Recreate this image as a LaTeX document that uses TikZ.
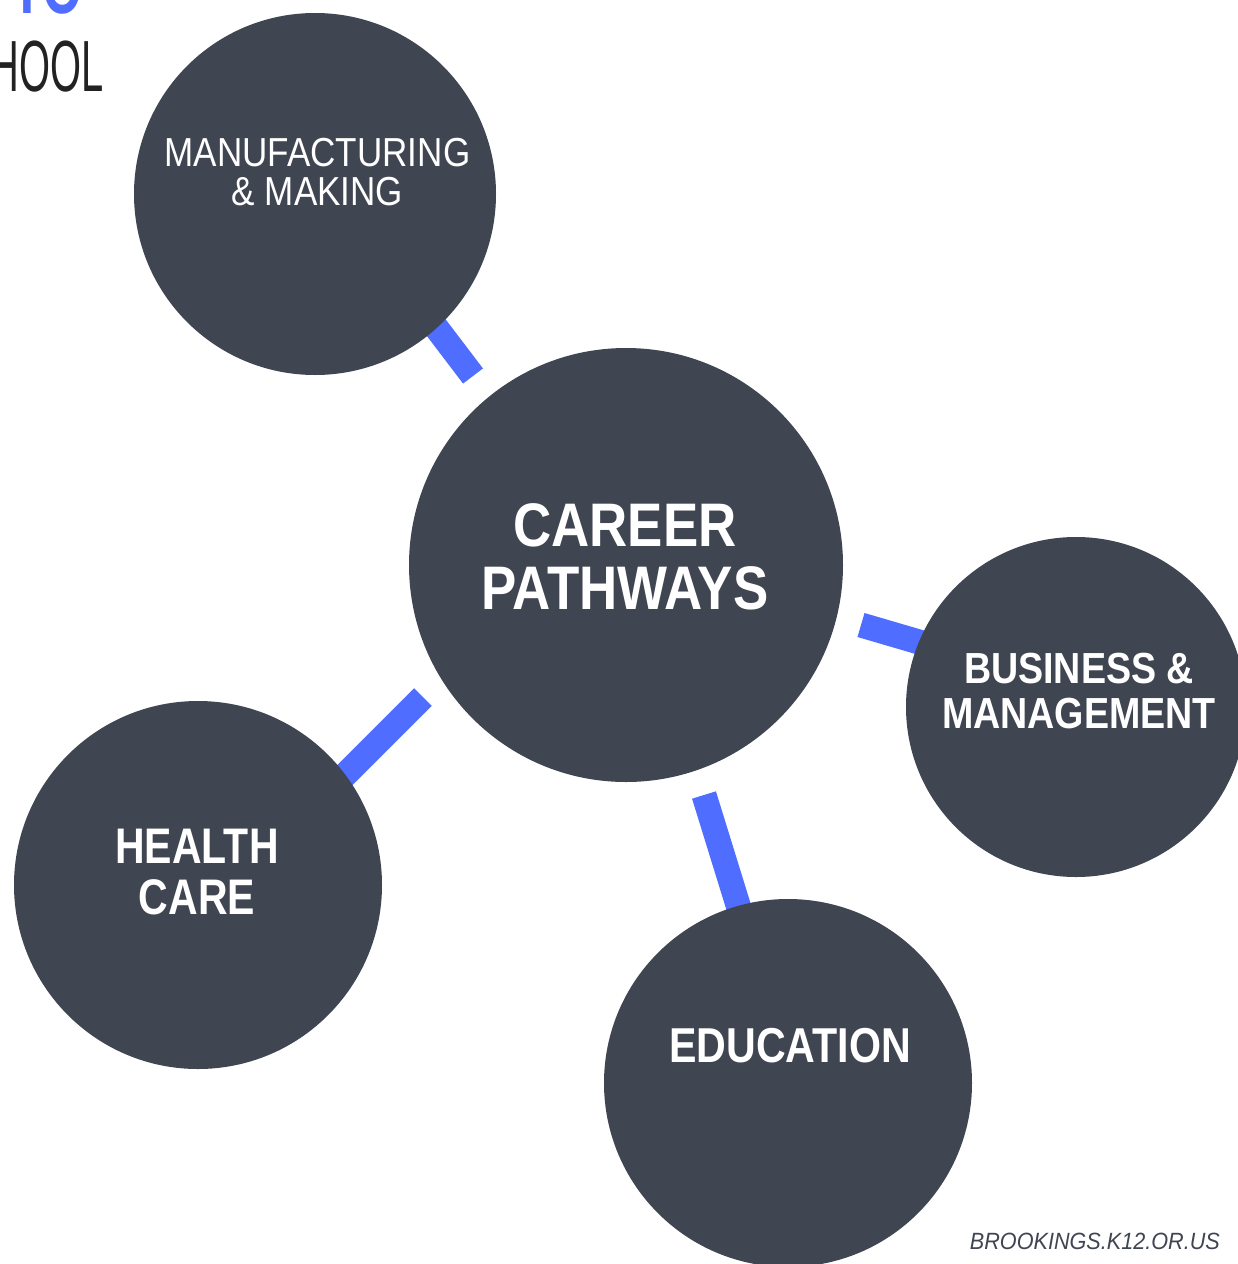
\documentclass[tikz,border=0pt]{standalone}
\usepackage{fontspec}
\newfontfamily\fman[FakeStretch=0.865]{Liberation Sans}
\newfontfamily\fcar[FakeStretch=0.86]{Liberation Sans}
\newfontfamily\fbus[FakeStretch=0.865]{Liberation Sans}
\newfontfamily\fhea[FakeStretch=0.82]{Liberation Sans}
\newfontfamily\fedu[FakeStretch=0.84]{Liberation Sans}
\newfontfamily\ffoot[FakeStretch=0.92]{Liberation Sans}
\newfontfamily\fhool[FakeStretch=0.55]{Liberation Sans}
\newfontfamily\fblue[FakeStretch=0.65]{Liberation Sans}
\definecolor{disc}{HTML}{404552}
\definecolor{barblue}{HTML}{4F6EFF}
\definecolor{ink}{HTML}{222222}
\tikzset{
  disc/.style={circle,fill=disc,draw=none,inner sep=0pt,minimum size=#1},
  barline/.style={draw=barblue,line width=25pt,line cap=butt},
  lbl/.style={text=white,align=center,inner sep=0pt,anchor=north}
}
\begin{document}
\begin{tikzpicture}[x=1pt,y=-1pt]
\useasboundingbox (0,0) rectangle (1238,1264);
\clip (0,0) rectangle (1238,1264);
\fill[white] (0,0) rectangle (1238,1264);
% circle positions
\coordinate (manuC) at (315,194);
\coordinate (carC) at (626,565);
\coordinate (busC) at (1076,707);
\coordinate (heaC) at (198,885);
\coordinate (eduC) at (788,1083);
% free bar ends near the central circle
\coordinate (manuEnd) at (473,376);
\coordinate (busEnd) at (861,625);
\coordinate (heaEnd) at (423,697);
\coordinate (eduEnd) at (704,795);
% hidden bar ends inside the outer circles
\coordinate (manuIn) at (400,280);
\coordinate (busIn) at (960,654);
\coordinate (heaIn) at (300,820);
\coordinate (eduIn) at (755,960);
% bars (behind circles)
\draw[barline] (manuEnd) -- (manuIn);
\draw[barline] (busEnd) -- (busIn);
\draw[barline] (heaEnd) -- (heaIn);
\draw[barline] (eduEnd) -- (eduIn);
% circles
\node[disc=362pt] (manu) at (manuC) {};
\node[disc=434pt] (car) at (carC) {};
\node[disc=340pt] (bus) at (busC) {};
\node[disc=368pt] (hea) at (heaC) {};
\node[disc=368pt] (edu) at (eduC) {};
% labels
\node[lbl,font={\fman\fontsize{40.5}{39}\selectfont}] (manuT) at (317.5,138) {MANUFACTURING\\ \& MAKING};
\node[lbl,font={\fcar\bfseries\fontsize{61.5}{63}\selectfont}] (carT) at (625,503) {CAREER\\ PATHWAYS};
\node[lbl,font={\fbus\bfseries\fontsize{43.5}{45}\selectfont}] (busT) at (1079,653) {BUSINESS \&\\ MANAGEMENT};
\node[lbl,font={\fhea\bfseries\fontsize{50}{51}\selectfont}] (heaT) at (197,829) {HEALTH\\ CARE};
\node[lbl,font={\fedu\bfseries\fontsize{49}{50}\selectfont}] (eduT) at (790,1028) {EDUCATION};
% corner texts
\node[anchor=base east,inner sep=0pt,text=ink,font={\fhool\fontsize{72.5}{75}\selectfont}] (hool) at (104,91) {SCHOOL};
\node[anchor=base east,inner sep=0pt,text=barblue,font={\fblue\bfseries\fontsize{80}{80}\selectfont}] (blue) at (83,13) {TO};
\node[anchor=base east,inner sep=0pt,text=disc,font={\ffoot\itshape\fontsize{23.5}{24}\selectfont}] (foot) at (1220,1249) {BROOKINGS.K12.OR.US};
\end{tikzpicture}
\end{document}
